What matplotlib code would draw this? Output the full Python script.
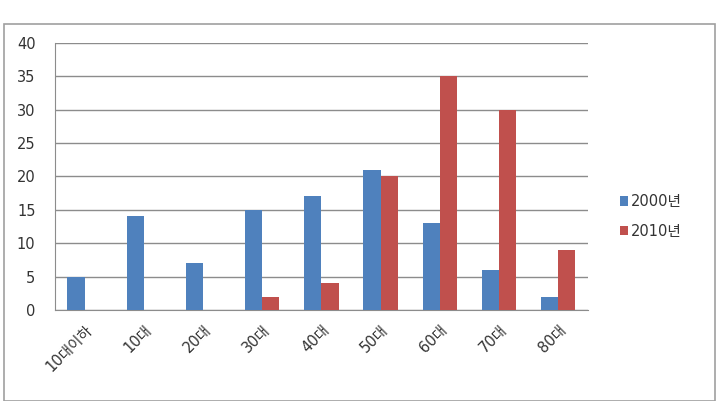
import numpy as np
import matplotlib.pyplot as plt
from matplotlib.patches import Rectangle

plt.rcParams['font.family'] = ['DejaVu Sans', 'Noto Sans CJK KR']

categories = ['10대이하', '10대', '20대', '30대', '40대', '50대', '60대', '70대', '80대']
series_names = ['2000년', '2010년']
values_2000 = [5, 14, 7, 15, 17, 21, 13, 6, 2]
values_2010 = [0, 0, 0, 2, 4, 20, 35, 30, 9]

fig = plt.figure(figsize=(7.18, 4.01), dpi=100)
ax = fig.add_axes([0.0766, 0.227, 0.742, 0.666])

x = np.arange(len(categories))
w = 0.29
ax.bar(x - w / 2, values_2000, w, color='#4F81BD', label=series_names[0], zorder=3)
ax.bar(x + w / 2, values_2010, w, color='#C0504D', label=series_names[1], zorder=3)

ax.set_xlim(-0.5, len(categories) - 0.5)
ax.set_ylim(0, 40)
ax.set_yticks(range(0, 41, 5))
ax.yaxis.grid(True, color='#8c8c8c', linewidth=1.0, zorder=0)
ax.set_axisbelow(True)
for s in ['top', 'right']:
    ax.spines[s].set_visible(False)
ax.spines['left'].set_color('#8c8c8c')
ax.spines['bottom'].set_color('#8c8c8c')
ax.tick_params(length=0, labelsize=10.5, colors='#333333')
ax.tick_params(axis='y', pad=14)
ax.tick_params(axis='x', pad=9)
ax.set_xticks(x)
ax.set_xticklabels(categories, rotation=45, ha='right', rotation_mode='anchor')

ax.legend(loc='center left', bbox_to_anchor=(1.035, 0.35), frameon=False,
          fontsize=10.5, handlelength=0.6, handleheight=0.6, handletextpad=0.15,
          labelspacing=1.0, labelcolor='#333333')

# chart outer border
fig.patches.append(Rectangle((0.006, 0.0), 0.99, 0.94, transform=fig.transFigure,
                             fill=False, edgecolor='#a0a0a0', linewidth=1.2))

fig.savefig('out.png', dpi=100)
